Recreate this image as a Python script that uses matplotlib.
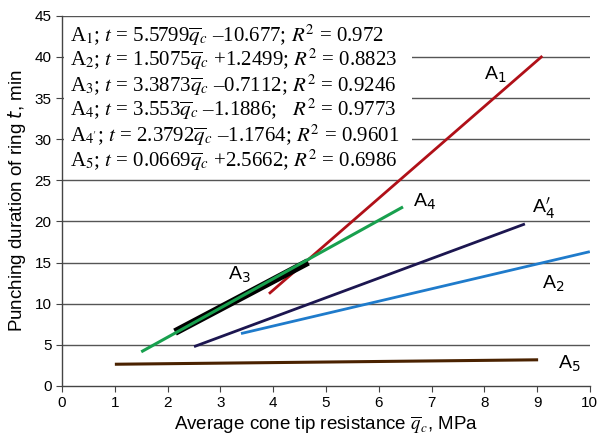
import matplotlib
matplotlib.use("Agg")
import matplotlib.pyplot as plt
from matplotlib.patches import Rectangle

# ---- data ----
series = ["A1", "A2", "A3", "A4", "A4'", "A5"]
q_start = [3.92, 3.39, 2.14, 1.50, 2.50, 1.00]
q_end = [9.10, 10.00, 4.66, 6.46, 8.77, 9.02]
t_start = [11.2, 6.36, 6.54, 4.14, 4.77, 2.63]
t_end = [40.1, 16.32, 15.07, 21.76, 19.69, 3.17]
colors = ["#B01018", "#1F7BCB", "#000000", "#18A04E", "#1C1650", "#4A2200"]
widths = [2.0, 2.0, 5.5, 2.2, 2.0, 2.2]
draw_order = [5, 1, 4, 0, 2, 3]

eq_lines = [
    r"A$_1$; $t$ = 5.5799$\overline{q}_c$ –10.677; $R^2$ = 0.972",
    r"A$_2$; $t$ = 1.5075$\overline{q}_c$ +1.2499; $R^2$ = 0.8823",
    r"A$_3$; $t$ = 3.3873$\overline{q}_c$ –0.7112; $R^2$ = 0.9246",
    r"A$_4$; $t$ = 3.553$\overline{q}_c$ –1.1886;   $R^2$ = 0.9773",
    r"A$_{4'}$; $t$ = 2.3792$\overline{q}_c$ –1.1764; $R^2$ = 0.9601",
    r"A$_5$; $t$ = 0.0669$\overline{q}_c$ +2.5662; $R^2$ = 0.6986",
]
eq_y = [42.7, 39.7, 36.6, 33.6, 30.5, 27.5]

labels = [r"A$_1$", r"A$_2$", r"A$_3$", r"A$_4$", r"A$_4^{\prime}$", r"A$_5$"]
label_pos = [(8.0, 37.8), (9.09, 12.4), (3.14, 13.5), (6.65, 22.4), (8.9, 21.6), (9.39, 2.7)]

xticks = list(range(0, 11))
yticks = list(range(0, 50, 5))

# ---- plot ----
plt.rcParams["font.family"] = ["Liberation Sans", "DejaVu Sans"]
plt.rcParams["mathtext.fontset"] = "stix"

fig = plt.figure(figsize=(5.97, 4.38), dpi=100)
ax = fig.add_axes([0.104, 0.119, 0.884, 0.845])

ax.set_xlim(0, 10)
ax.set_ylim(0, 45)
ax.set_xticks(xticks)
ax.set_yticks(yticks)
ax.tick_params(labelsize=11, length=4, color="#444444", direction="out")
for s in ["right", "top"]:
    ax.spines[s].set_visible(False)
for s in ["left", "bottom"]:
    ax.spines[s].set_color("#444444")
    ax.spines[s].set_linewidth(1.0)

for yv in yticks[1:]:
    ax.axhline(yv, color="#555555", lw=1.0, zorder=0.5)

ax.add_patch(Rectangle((0.03, 25.6), 6.6, 19.1, facecolor="white", edgecolor="none", zorder=1))

for i in draw_order:
    ax.plot([q_start[i], q_end[i]], [t_start[i], t_end[i]], color=colors[i],
            lw=widths[i], solid_capstyle="butt", zorder=2)

for txt, yv in zip(eq_lines, eq_y):
    ax.text(0.15, yv, txt, fontsize=15, family="Liberation Serif",
            va="center", ha="left", zorder=3)

for lab, (xv, yv) in zip(labels, label_pos):
    ax.text(xv, yv, lab, fontsize=14, va="center", ha="left",
            math_fontfamily="dejavusans", zorder=3)

ax.set_xlabel(r"Average cone tip resistance $\overline{q}_c$, MPa", fontsize=13.5, labelpad=3)
ax.set_ylabel(r"Punching duration of ring $t$, min", fontsize=13.5, labelpad=5,
              math_fontfamily="dejavusans")

fig.savefig("out.png", dpi=100)
